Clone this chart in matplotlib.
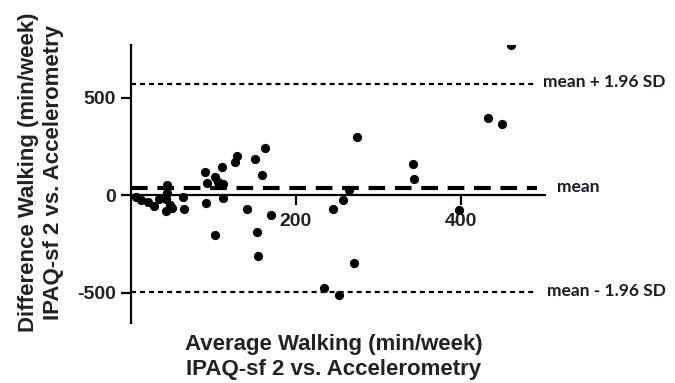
import matplotlib
matplotlib.use("Agg")
import matplotlib.pyplot as plt
import numpy as np

plt.rcParams['lines.scale_dashes'] = False

# Data
avg_walking = [6, 12, 21, 28, 34, 44, 44, 42, 47, 42, 50, 63, 64,
               90, 92, 91, 102, 105, 110, 112, 112, 102, 126, 128, 141, 150, 162, 159,
               170, 153, 154,
               274, 245, 257, 264, 270, 234, 252, 342, 343, 398, 433, 450, 461]
diff_walking = [-10, -26, -36, -56, -21, 51, 10, -21, -51, -82, -67, -10, -72,
                118, 62, -41, 92, 67, 144, 56, -15, -205, 169, 200, -72, 185, 241, 103,
                -103, -190, -313,
                297, -72, -26, 26, -349, -477, -513, 159, 82, -77, 395, 364, 769]
mean_diff = 36
upper_loa = 570
lower_loa = -497
line_end = 492

x_ticks = [200, 400]
y_ticks = [-500, 0, 500]
x_label = "Average Walking (min/week)\nIPAQ-sf 2 vs. Accelerometry"
y_label = "Difference Walking (min/week)\nIPAQ-sf 2 vs. Accelerometry"
loa_labels = ["mean + 1.96 SD", "mean", "mean - 1.96 SD"]

W, H = 675, 383
fig = plt.figure(figsize=(W / 100, H / 100), dpi=100)
left, right, top, bottom = 131, 545, 45, 323
ax = fig.add_axes([left / W, 1 - bottom / H, (right - left) / W, (bottom - top) / H])

ax.set_xlim(0, 502)
ax.set_ylim(-655, 770)

ax.scatter(avg_walking, diff_walking, s=44, color='black', zorder=3, linewidths=0)

ax.plot([0, line_end], [mean_diff, mean_diff], color='black', lw=3.0,
        dashes=(12, 7), zorder=2)
ax.plot([0, line_end], [upper_loa, upper_loa], color='black', lw=1.6,
        dashes=(3.6, 2.9), zorder=2)
ax.plot([0, line_end], [lower_loa, lower_loa], color='black', lw=1.6,
        dashes=(3.6, 2.9), zorder=2)

for sp in ['top', 'right']:
    ax.spines[sp].set_visible(False)
ax.spines['bottom'].set_position(('data', 0))
ax.spines['left'].set_linewidth(1.6)
ax.spines['bottom'].set_linewidth(1.6)

ax.set_xticks(x_ticks)
ax.set_yticks(y_ticks)
ax.set_xticklabels([str(v) for v in x_ticks])
ax.set_yticklabels([str(v) for v in y_ticks])
ax.tick_params(axis='x', direction='out', length=7, width=1.6, pad=6,
               labelsize=14)
ax.tick_params(axis='y', direction='out', length=7, width=1.6, pad=4,
               labelsize=14)
for lab in ax.get_xticklabels() + ax.get_yticklabels():
    lab.set_fontfamily('Liberation Sans')
    lab.set_fontweight('bold')
    lab.set_color('#222222')

fig.text(334 / W, 1 - 357 / H, x_label, ha='center', va='center',
         fontsize=16, fontweight='bold', family='Liberation Sans',
         color='#222222', linespacing=1.2, multialignment='center')
fig.text(41 / W, 1 - 172 / H, y_label, ha='center', va='center', rotation=90,
         fontsize=16, fontweight='bold', family='Liberation Sans',
         color='#222222', linespacing=1.2, multialignment='center')

lab_font = dict(fontsize=12.5, fontweight='bold', family='Lato', color='#1a1a2a',
                va='center', ha='left')
fig.text(543 / W, 1 - 82 / H, loa_labels[0], **lab_font)
fig.text(557 / W, 1 - 187 / H, loa_labels[1], **lab_font)
fig.text(547 / W, 1 - 291 / H, loa_labels[2], **lab_font)

fig.savefig("out.png", dpi=100)
